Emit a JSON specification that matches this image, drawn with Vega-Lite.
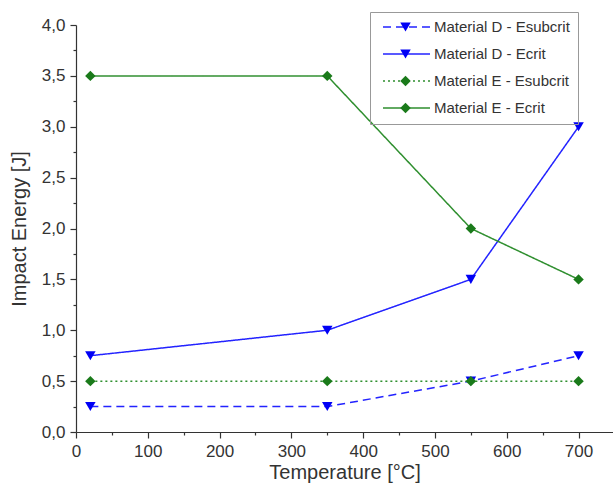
{
  "$schema": "https://vega.github.io/schema/vega-lite/v6.json",
  "autosize": "none",
  "width": 537,
  "height": 407,
  "padding": {"left": 76, "top": 25, "right": 0, "bottom": 59},
  "background": "white",
  "config": {
    "view": {"stroke": null},
    "font": "Liberation Sans",
    "axis": {
      "grid": false,
      "domainColor": "#333333",
      "tickColor": "#333333",
      "labelColor": "#333333",
      "titleColor": "#333333",
      "labelFont": "Liberation Sans",
      "titleFont": "Liberation Sans",
      "labelFontSize": 17,
      "titleFontSize": 20,
      "titleFontWeight": "normal",
      "domainWidth": 1.2,
      "tickWidth": 1.2,
      "labelFlush": false,
      "labelOverlap": false
    },
    "legend": {
      "labelFont": "Liberation Sans",
      "labelFontSize": 15,
      "labelColor": "#333333"
    }
  },
  "data": {
    "values": [
      {"series": "Material D - Esubcrit", "t": 20, "e": 0.25},
      {"series": "Material D - Esubcrit", "t": 350, "e": 0.25},
      {"series": "Material D - Esubcrit", "t": 550, "e": 0.5},
      {"series": "Material D - Esubcrit", "t": 700, "e": 0.75},
      {"series": "Material D - Ecrit", "t": 20, "e": 0.75},
      {"series": "Material D - Ecrit", "t": 350, "e": 1.0},
      {"series": "Material D - Ecrit", "t": 550, "e": 1.5},
      {"series": "Material D - Ecrit", "t": 700, "e": 3.0},
      {"series": "Material E - Esubcrit", "t": 20, "e": 0.5},
      {"series": "Material E - Esubcrit", "t": 350, "e": 0.5},
      {"series": "Material E - Esubcrit", "t": 550, "e": 0.5},
      {"series": "Material E - Esubcrit", "t": 700, "e": 0.5},
      {"series": "Material E - Ecrit", "t": 20, "e": 3.5},
      {"series": "Material E - Ecrit", "t": 350, "e": 3.5},
      {"series": "Material E - Ecrit", "t": 550, "e": 2.0},
      {"series": "Material E - Ecrit", "t": 700, "e": 1.5}
    ]
  },
  "encoding": {
    "x": {
      "field": "t",
      "type": "quantitative",
      "scale": {"domain": [0, 748], "nice": false, "zero": false},
      "axis": {
        "title": "Temperature [°C]",
        "values": [0, 50, 100, 150, 200, 250, 300, 350, 400, 450, 500, 550, 600, 650, 700],
        "labelExpr": "datum.value % 100 === 0 ? datum.label : ''",
        "tickSize": {"condition": {"test": "datum.value % 100 !== 0", "value": 3}, "value": 6},
        "labelPadding": 5,
        "titlePadding": 3
      }
    },
    "y": {
      "field": "e",
      "type": "quantitative",
      "scale": {"domain": [0, 4], "nice": false},
      "axis": {
        "title": "Impact Energy [J]",
        "values": [0, 0.25, 0.5, 0.75, 1, 1.25, 1.5, 1.75, 2, 2.25, 2.5, 2.75, 3, 3.25, 3.5, 3.75, 4],
        "labelExpr": "(datum.value * 2) % 1 === 0 ? replace(format(datum.value, '.1f'), '.', ',') : ''",
        "tickSize": {"condition": {"test": "(datum.value * 2) % 1 !== 0", "value": 3}, "value": 6},
        "labelPadding": 5,
        "titlePadding": 12
      }
    }
  },
  "layer": [
    {
      "mark": {"type": "line", "strokeWidth": 1.5},
      "encoding": {
        "color": {
          "field": "series",
          "type": "nominal",
          "scale": {
            "domain": ["Material D - Esubcrit", "Material D - Ecrit", "Material E - Esubcrit", "Material E - Ecrit"],
            "range": ["#2323ff", "#2323ff", "#2f8f2f", "#2f8f2f"]
          },
          "legend": {
            "title": null,
            "orient": "none",
            "legendX": 294,
            "legendY": -13,
            "symbolType": "stroke",
            "symbolSize": 2209,
            "symbolStrokeWidth": 1.5,
            "symbolOffset": 4,
            "strokeColor": "#999999",
            "padding": 8,
            "rowPadding": 12,
            "clipHeight": 14,
            "labelOffset": 3
          }
        },
        "strokeDash": {
          "field": "series",
          "type": "nominal",
          "scale": {
            "domain": ["Material D - Esubcrit", "Material D - Ecrit", "Material E - Esubcrit", "Material E - Ecrit"],
            "range": [[8, 5], [1, 0], [2, 3], [1, 0]]
          },
          "legend": {
            "title": null,
            "orient": "none",
            "legendX": 294,
            "legendY": -13,
            "symbolType": "stroke",
            "symbolSize": 2209,
            "symbolStrokeWidth": 1.5,
            "symbolOffset": 4,
            "strokeColor": "#999999",
            "padding": 8,
            "rowPadding": 12,
            "clipHeight": 14,
            "labelOffset": 3
          }
        }
      }
    },
    {
      "mark": {"type": "point", "filled": true, "size": 110, "opacity": 1, "strokeWidth": 0},
      "encoding": {
        "fill": {
          "field": "series",
          "type": "nominal",
          "scale": {"range": ["#0000f5", "#0000f5", "#1a7a1a", "#1a7a1a"]},
          "legend": {
            "title": null,
            "orient": "none",
            "legendX": 310,
            "legendY": -13,
            "symbolSize": 110,
            "symbolOffset": 4,
            "padding": 8,
            "rowPadding": 12,
            "clipHeight": 14,
            "labelOffset": 5,
            "labelExpr": "''"
          }
        },
        "shape": {
          "field": "series",
          "type": "nominal",
          "scale": {"range": ["triangle-down", "triangle-down", "diamond", "diamond"]},
          "legend": {
            "title": null,
            "orient": "none",
            "legendX": 310,
            "legendY": -13,
            "symbolSize": 110,
            "symbolOffset": 4,
            "padding": 8,
            "rowPadding": 12,
            "clipHeight": 14,
            "labelOffset": 5,
            "labelExpr": "''"
          }
        }
      }
    }
  ]
}
